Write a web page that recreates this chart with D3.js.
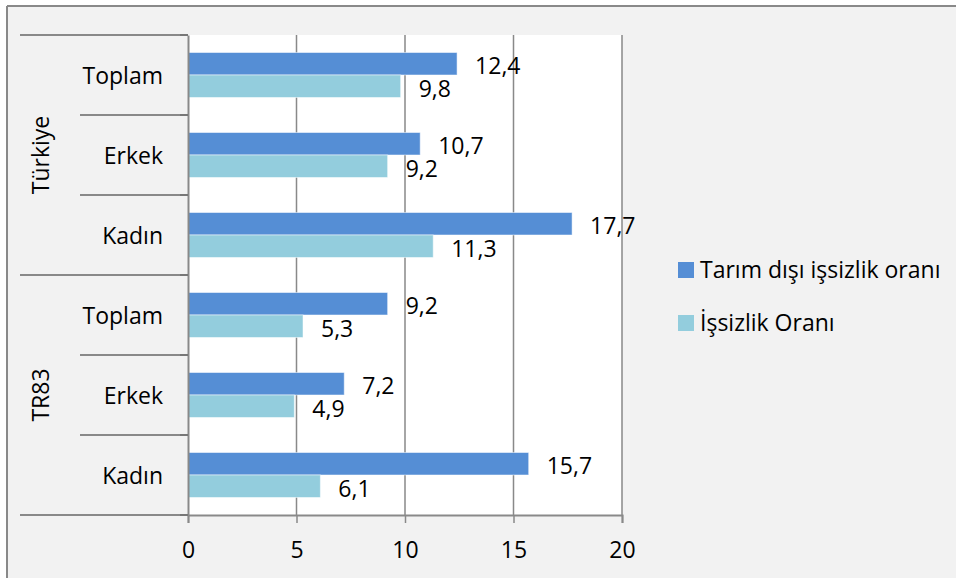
<!DOCTYPE html>
<html>
<head>
<meta charset="utf-8">
<script src="https://cdn.jsdelivr.net/npm/d3@7"></script>
<style>
  html, body { margin: 0; padding: 0; background: #fff; }
  svg { display: block; }
  text { font-family: "Open Sans", Lato, sans-serif; fill: #000; }
</style>
</head>
<body>
<svg id="chart" width="956" height="578"></svg>
<script>
// Region / gender breakdown
const groups = ["Türkiye", "TR83"];
const categories = ["Toplam", "Erkek", "Kadın"];
const seriesNames = ["Tarım dışı işsizlik oranı", "İşsizlik Oranı"];
// values per row, top to bottom: Türkiye (Toplam, Erkek, Kadın), TR83 (Toplam, Erkek, Kadın)
const nonAgriRate = [12.4, 10.7, 17.7, 9.2, 7.2, 15.7];
const unemploymentRate = [9.8, 9.2, 11.3, 5.3, 4.9, 6.1];
const xTicks = [0, 5, 10, 15, 20];

const colors = ["#558ed5", "#93cddd"];
const gridColor = "#898989";
const fontFamily = "'Open Sans', Lato, sans-serif";
const labelSize = 23;

const rows = [];
groups.forEach((g, gi) => categories.forEach((c, ci) => {
  const i = gi * categories.length + ci;
  rows.push({ id: g + "|" + c, group: g, label: c, values: [nonAgriRate[i], unemploymentRate[i]] });
}));

const svg = d3.select("#chart");

// chart frame
svg.append("rect").attr("x", 7).attr("y", 6).attr("width", 960).attr("height", 580).attr("fill", "#f2f2f2");
svg.append("line").attr("x1", 7).attr("x2", 960).attr("y1", 6).attr("y2", 6).attr("stroke", gridColor).attr("stroke-width", 2);
svg.append("line").attr("x1", 7).attr("x2", 7).attr("y1", 6).attr("y2", 580).attr("stroke", gridColor).attr("stroke-width", 2);

const plot = { left: 188, right: 622, top: 35, bottom: 515 };

const x = d3.scaleLinear().domain([0, 20]).range([plot.left, plot.right]);
const y = d3.scaleBand().domain(rows.map(r => r.id)).range([plot.top, plot.bottom]).padding(0);
const ySub = d3.scaleBand().domain([0, 1]).range([0, y.bandwidth()]).paddingInner(0).paddingOuter(0.778);

// plot background
svg.append("rect")
  .attr("x", plot.left).attr("y", plot.top)
  .attr("width", plot.right - plot.left).attr("height", plot.bottom - plot.top)
  .attr("fill", "#fff");

// vertical gridlines
svg.append("g").selectAll("line").data(xTicks.slice(1)).join("line")
  .attr("x1", d => x(d)).attr("x2", d => x(d))
  .attr("y1", plot.top).attr("y2", plot.bottom)
  .attr("stroke", gridColor).attr("stroke-width", 1.5);

// bars
const rowG = svg.append("g").selectAll("g").data(rows).join("g")
  .attr("transform", d => `translate(0,${y(d.id)})`);

rowG.selectAll("rect").data(d => d.values.map((v, k) => ({ v, k }))).join("rect")
  .attr("x", x(0))
  .attr("y", d => ySub(d.k))
  .attr("width", d => x(d.v) - x(0))
  .attr("height", ySub.bandwidth())
  .attr("fill", d => colors[d.k])
  .attr("stroke", "#ffffff").attr("stroke-opacity", 0.5).attr("stroke-width", 1);

// value labels
rowG.selectAll("text").data(d => d.values.map((v, k) => ({ v, k }))).join("text")
  .attr("x", d => x(d.v) + 18)
  .attr("y", d => ySub(d.k) + ySub.bandwidth() / 2 + 2)
  .attr("dy", "0.36em")
  .attr("font-size", labelSize)
  .text(d => d3.format(".1f")(d.v).replace(".", ","));

// bottom axis
const xAxis = svg.append("g")
  .attr("transform", `translate(0,${plot.bottom})`)
  .call(d3.axisBottom(x).tickValues(xTicks).tickSize(8).tickPadding(19).tickFormat(d3.format("d")));
xAxis.select(".domain").attr("stroke", gridColor).attr("stroke-width", 2);
xAxis.selectAll(".tick line").attr("stroke", gridColor).attr("stroke-width", 1.5);
xAxis.selectAll(".tick text").attr("font-size", labelSize).attr("font-family", fontFamily);

// left axis: category labels
const yAxis = svg.append("g")
  .attr("transform", `translate(${plot.left},0)`)
  .call(d3.axisLeft(y).tickSize(0).tickPadding(25).tickFormat(id => id.split("|")[1]));
yAxis.select(".domain").attr("stroke", gridColor).attr("stroke-width", 2);
yAxis.selectAll(".tick text").attr("font-size", labelSize).attr("font-family", fontFamily).attr("dy", "0.38em");

// category and group separators
const boundaries = rows.map(r => y(r.id)).concat([plot.bottom]);
svg.append("g").selectAll("line").data(boundaries).join("line")
  .attr("x1", (d, i) => i % categories.length === 0 ? 20 : 80)
  .attr("x2", plot.left)
  .attr("y1", d => d).attr("y2", d => d)
  .attr("stroke", gridColor).attr("stroke-width", 2);
svg.append("g").selectAll("line").data(boundaries).join("line")
  .attr("x1", plot.left - 8).attr("x2", plot.left)
  .attr("y1", d => d).attr("y2", d => d)
  .attr("stroke", "#777").attr("stroke-width", 2);

// group labels (rotated)
svg.append("g").selectAll("text").data(groups).join("text")
  .attr("transform", (g, gi) => {
    const top = y(g + "|" + categories[0]);
    const bottom = y(g + "|" + categories[categories.length - 1]) + y.bandwidth();
    return `translate(41,${(top + bottom) / 2}) rotate(-90)`;
  })
  .attr("text-anchor", "middle")
  .attr("dy", "0.36em")
  .attr("font-size", labelSize)
  .text(d => d);

// legend
const legend = svg.append("g").selectAll("g").data(seriesNames).join("g")
  .attr("transform", (d, i) => `translate(678,${262 + i * 53})`);
legend.append("rect").attr("width", 16).attr("height", 16).attr("fill", (d, i) => colors[i]);
legend.append("text").attr("x", 22).attr("y", 15.5).attr("font-size", 23).text(d => d);
</script>
</body>
</html>
